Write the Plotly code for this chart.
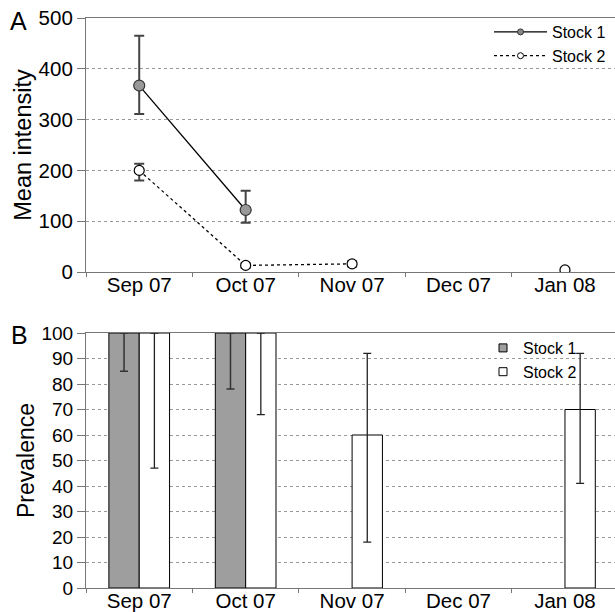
import plotly.graph_objects as go

months = ["Sep 07", "Oct 07", "Nov 07", "Dec 07", "Jan 08"]

# Panel A: mean intensity
int_s1 = [367, 122, None, None, None]
int_s1_plus = [98, 38, 0, 0, 0]
int_s1_minus = [56, 25, 0, 0, 0]
int_s2 = [200, 13, 16, None, 4]
int_s2_plus = [13, 4, 5, 0, 0]
int_s2_minus = [20, 4, 5, 0, 0]

# Panel B: prevalence
prev_s1 = [100, 100, None, None, None]
prev_s1_plus = [0, 0, 0, 0, 0]
prev_s1_minus = [15, 22, 0, 0, 0]
prev_s2 = [100, 100, 60, None, 70]
prev_s2_plus = [0, 0, 32, 0, 22]
prev_s2_minus = [53, 32, 42, 0, 29]

series_names = ["Stock 1", "Stock 2"]

FONT = "Liberation Sans, Arial, Helvetica, sans-serif"
W, H = 615, 612
ML = 86

fig = go.Figure()

# Panel A data traces
fig.add_trace(go.Scatter(
    x=months, y=int_s1, name=series_names[0], mode="lines+markers", showlegend=False,
    line=dict(color="black", width=1.3),
    marker=dict(symbol="circle", size=11, color="#999999", line=dict(color="#333333", width=1.2)),
    error_y=dict(type="data", symmetric=False, array=int_s1_plus, arrayminus=int_s1_minus,
                 color="#444444", thickness=2, width=5),
    xaxis="x", yaxis="y", connectgaps=False,
))
fig.add_trace(go.Scatter(
    x=months, y=int_s2, name=series_names[1], mode="lines+markers", showlegend=False,
    line=dict(color="black", width=1.3, dash="dot"),
    marker=dict(symbol="circle", size=10, color="white", line=dict(color="black", width=1.2)),
    error_y=dict(type="data", symmetric=False, array=int_s2_plus, arrayminus=int_s2_minus,
                 color="#444444", thickness=2, width=5),
    xaxis="x", yaxis="y", connectgaps=False,
))
# Panel A legend entries (small markers like the reference)
fig.add_trace(go.Scatter(
    x=[None], y=[None], name=series_names[0], mode="lines+markers",
    line=dict(color="black", width=1.3),
    marker=dict(symbol="circle", size=6, color="#888888", line=dict(color="#333333", width=1)),
    xaxis="x", yaxis="y", legend="legend",
))
fig.add_trace(go.Scatter(
    x=[None], y=[None], name=series_names[1], mode="lines+markers",
    line=dict(color="black", width=1.3, dash="dot"),
    marker=dict(symbol="circle", size=6, color="white", line=dict(color="black", width=1)),
    xaxis="x", yaxis="y", legend="legend",
))

# Panel B data traces
fig.add_trace(go.Bar(
    x=months, y=prev_s1, name=series_names[0], showlegend=False,
    marker=dict(color="#9e9e9e", line=dict(color="black", width=1)),
    error_y=dict(type="data", symmetric=False, array=prev_s1_plus, arrayminus=prev_s1_minus,
                 color="#333333", thickness=1.5, width=4),
    xaxis="x2", yaxis="y2",
))
fig.add_trace(go.Bar(
    x=months, y=prev_s2, name=series_names[1], showlegend=False,
    marker=dict(color="white", line=dict(color="black", width=1)),
    error_y=dict(type="data", symmetric=False, array=prev_s2_plus, arrayminus=prev_s2_minus,
                 color="#222222", thickness=1.3, width=4),
    xaxis="x2", yaxis="y2",
))
# Panel B legend entries (small squares)
fig.add_trace(go.Scatter(
    x=[None], y=[None], name=series_names[0], mode="markers",
    marker=dict(symbol="square", size=8, color="#9e9e9e", line=dict(color="black", width=1)),
    xaxis="x2", yaxis="y2", legend="legend2",
))
fig.add_trace(go.Scatter(
    x=[None], y=[None], name=series_names[1], mode="markers",
    marker=dict(symbol="square", size=8, color="white", line=dict(color="black", width=1)),
    xaxis="x2", yaxis="y2", legend="legend2",
))

def py(p):
    return (H - p) / H

def px(p):
    return (p - ML) / (W - ML)

xcommon = dict(
    type="category", categoryorder="array", categoryarray=months,
    range=[-0.5, 4.47], showline=True, linecolor="#777777", linewidth=1.2,
    mirror=True, ticks="outside", tickson="boundaries", ticklen=4, tickcolor="#777777",
    showgrid=False, tickfont=dict(family=FONT, size=20.5, color="black"),
    ticklabelstandoff=-6,
    domain=[0, 1.0], zeroline=False, automargin=False,
)
ycommon = dict(
    showline=True, linecolor="#777777", linewidth=1.2, ticks="outside", ticklen=8,
    tickcolor="#777777", showgrid=True, gridcolor="#999999", griddash="dot", gridwidth=1,
    zeroline=False, automargin=False,
)

fig.update_layout(
    width=W, height=H, margin=dict(l=ML, r=0, t=0, b=0),
    paper_bgcolor="white", plot_bgcolor="white",
    font=dict(family=FONT, color="black"),
    barmode="group", bargap=0.43, bargroupgap=0,
    xaxis=dict(**xcommon, anchor="y"),
    yaxis=dict(**ycommon, range=[0, 500], tickvals=[0, 100, 200, 300, 400, 500],
               tickfont=dict(family=FONT, size=20.5, color="black"),
               domain=[py(272), py(18)], anchor="x",
               title=dict(text="Mean intensity", font=dict(family=FONT, size=23.5), standoff=0)),
    xaxis2=dict(**xcommon, anchor="y2"),
    yaxis2=dict(**ycommon, range=[0, 100], tickvals=list(range(0, 101, 10)),
                tickfont=dict(family=FONT, size=19, color="black"),
                domain=[py(588), py(333)], anchor="x2",
                title=dict(text="Prevalence", font=dict(family=FONT, size=23), standoff=0)),
    legend=dict(x=px(489), y=py(15), xanchor="left", yanchor="top", bgcolor="rgba(0,0,0,0)",
                font=dict(family=FONT, size=16), itemwidth=53, tracegroupgap=0,
                traceorder="normal"),
    legend2=dict(x=px(483), y=py(331), xanchor="left", yanchor="top", bgcolor="rgba(0,0,0,0)",
                 font=dict(family=FONT, size=16), itemwidth=30, tracegroupgap=0,
                 traceorder="normal"),
    annotations=[
        dict(text="A", x=px(8), y=py(21), xref="paper", yref="paper", xanchor="left",
             yanchor="middle", showarrow=False, font=dict(family=FONT, size=25)),
        dict(text="B", x=px(9), y=py(335), xref="paper", yref="paper", xanchor="left",
             yanchor="middle", showarrow=False, font=dict(family=FONT, size=25)),
    ],
)

fig.write_html("out.html", config={"displayModeBar": False},
               post_script="document.body.style.margin='0';")
